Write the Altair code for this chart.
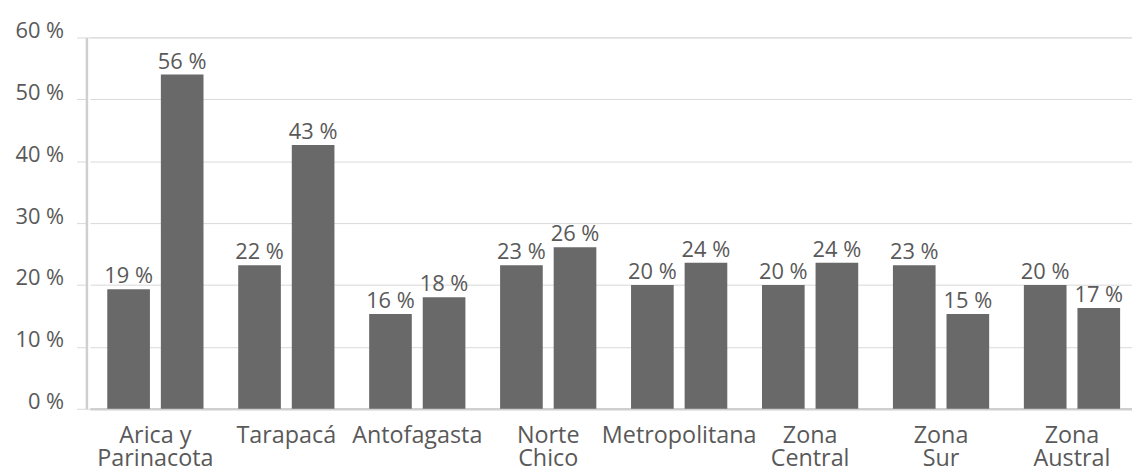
import altair as alt
import pandas as pd

regions = ["Arica y Parinacota", "Tarapacá", "Antofagasta", "Norte Chico",
           "Metropolitana", "Zona Central", "Zona Sur", "Zona Austral"]
region_lines = [["Arica y", "Parinacota"], ["Tarapacá"], ["Antofagasta"], ["Norte", "Chico"],
                ["Metropolitana"], ["Zona", "Central"], ["Zona", "Sur"], ["Zona", "Austral"]]
series_names = ["Serie 1", "Serie 2"]
series_1 = [19.3, 23.2, 15.3, 23.2, 20.0, 20.0, 23.2, 20.0]
series_2 = [54.0, 42.6, 18.0, 26.1, 23.6, 23.6, 15.3, 16.3]
labels_1 = ["19 %", "22 %", "16 %", "23 %", "20 %", "20 %", "23 %", "20 %"]
labels_2 = ["56 %", "43 %", "18 %", "26 %", "24 %", "24 %", "15 %", "17 %"]
y_ticks = [0, 10, 20, 30, 40, 50, 60]

rows = []
for i, r in enumerate(regions):
    rows.append({"region": r, "serie": series_names[0], "value": series_1[i], "label": labels_1[i]})
    rows.append({"region": r, "serie": series_names[1], "value": series_2[i], "label": labels_2[i]})
df = pd.DataFrame(rows)

def js_list(items):
    return "[" + ",".join("'" + s + "'" for s in items) + "]"

expr = "datum.label"
for r, lines in reversed(list(zip(regions, region_lines))):
    expr = f"datum.label == '{r}' ? {js_list(lines)} : ({expr})"

FONT = "Open Sans"
TXT = "#595959"
BAR = "#696969"

x_enc = alt.X("region:N", sort=regions, title=None,
              scale=alt.Scale(paddingInner=0.265, paddingOuter=0.1325, range=[3.5, 1058.5]),
              axis=alt.Axis(labelExpr=expr, labelAngle=0, ticks=False, labelPadding=15,
                            labelLineHeight=23, labelFontSize=23.5, labelColor=TXT, labelFont=FONT,
                            domainColor="#cfcfcf", domainWidth=2.5, grid=False))
xo_enc = alt.XOffset("serie:N", sort=series_names,
                     scale=alt.Scale(paddingInner=0.204, paddingOuter=0))
y_enc = alt.Y("value:Q", title=None,
              scale=alt.Scale(domain=[0, 60], nice=False),
              axis=alt.Axis(values=y_ticks, labelExpr="datum.value + ' %'", tickSize=10,
                            tickColor="#d9d9d9", gridColor="#d9d9d9", grid=True,
                            labelPadding=13, labelFontSize=22, labelColor=TXT, labelFont=FONT,
                            labelBaseline="alphabetic", domainColor="#cfcfcf", domainWidth=2.5))

bars = alt.Chart(df).mark_bar(color=BAR).encode(x=x_enc, xOffset=xo_enc, y=y_enc)
texts = alt.Chart(df).mark_text(baseline="alphabetic", dy=-6, fontSize=22, font=FONT,
                                color=TXT).encode(x=x_enc, xOffset=xo_enc, y=y_enc, text="label:N")

chart = (bars + texts).properties(
    width=1053, height=374,
    autosize=alt.AutoSizeParams(type="none"),
    padding={"left": 79, "top": 28, "right": 0, "bottom": 56},
).configure_view(stroke=None).configure(background="white")

chart.save("out.html", embed_options={"renderer": "svg", "actions": False})
